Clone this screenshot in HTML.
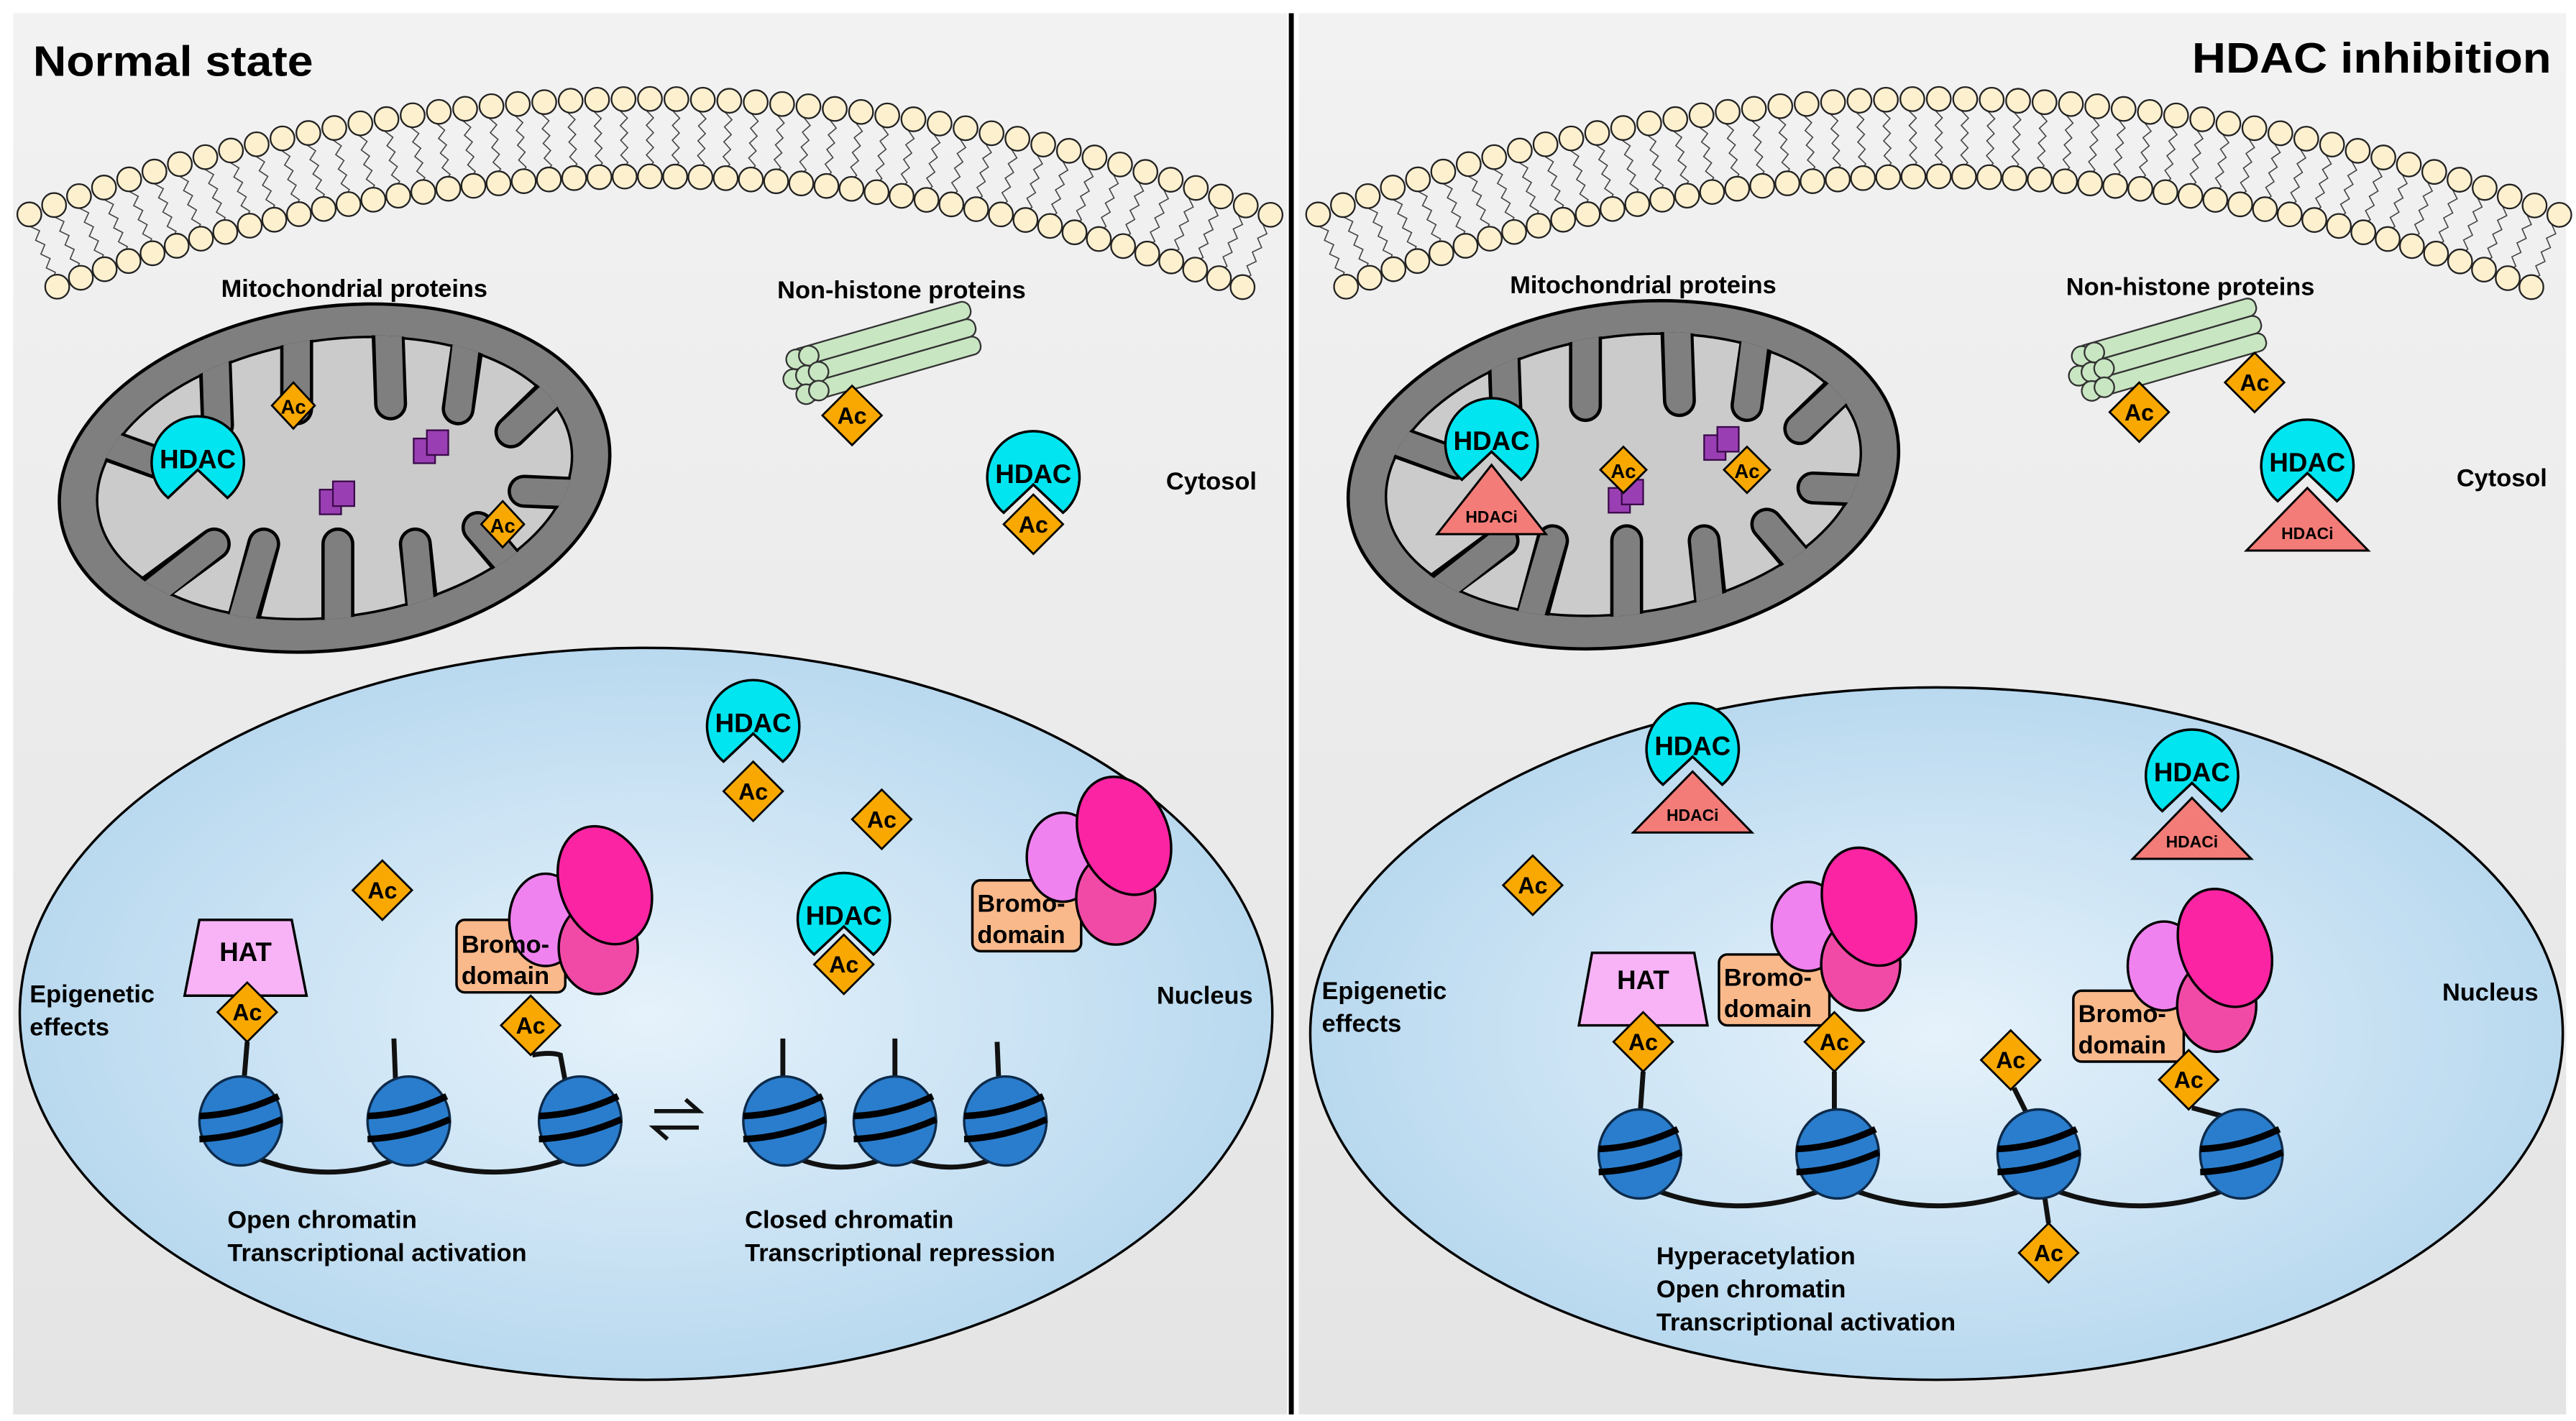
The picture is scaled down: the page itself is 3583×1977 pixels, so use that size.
<!DOCTYPE html>
<html><head><meta charset="utf-8"><style>
html,body{margin:0;padding:0;background:#fff;}
svg{display:block;}
text{font-family:"Liberation Sans",Arial,sans-serif;font-weight:bold;fill:#000;}
</style></head><body>
<svg id="s" width="3583" height="1977" viewBox="0 0 1563 862" preserveAspectRatio="none" xmlns="http://www.w3.org/2000/svg">
<defs>
<linearGradient id="bg" x1="0" y1="0" x2="0" y2="1"><stop offset="0" stop-color="#f2f2f2"/><stop offset="1" stop-color="#e4e4e4"/></linearGradient>
<radialGradient id="nuc" cx="0.5" cy="0.5" r="0.5"><stop offset="0" stop-color="#e6f2fb"/><stop offset="1" stop-color="#b9d9ef"/></radialGradient>
<clipPath id="cl"><ellipse cx="203" cy="290" rx="146" ry="85" transform="rotate(-8 203 290)"/></clipPath>
<clipPath id="cr"><ellipse cx="985" cy="288" rx="146" ry="85" transform="rotate(-8 985 288)"/></clipPath>
</defs>
<rect x="0" y="0" width="1563" height="862" fill="#fff"/>
<rect x="8" y="8" width="773" height="850" fill="url(#bg)"/>
<rect x="788" y="8" width="769" height="850" fill="url(#bg)"/>
<line x1="783.5" y1="8" x2="783.5" y2="858" stroke="#000" stroke-width="3"/>
<g id="mem"></g>

<text x="20" y="46" font-size="26" textLength="170" lengthAdjust="spacingAndGlyphs">Normal state</text>
<text x="1330" y="44" font-size="26" textLength="218" lengthAdjust="spacingAndGlyphs">HDAC inhibition</text>

<!-- LEFT MITO -->
<g>
<ellipse cx="203" cy="290" rx="168" ry="104" transform="rotate(-8 203 290)" fill="#7f7f7f" stroke="#000" stroke-width="2"/>
<ellipse cx="203" cy="290" rx="145" ry="84" transform="rotate(-8 203 290)" fill="#cbcbcb" stroke="#000" stroke-width="1.5"/>
<g clip-path="url(#cl)">
<g stroke="#000" stroke-width="20" stroke-linecap="round" fill="none">
<path d="M130 205 L132 258 M180 195 L180 248 M235 190 L237 245 M285 200 L278 248 M345 228 L310 262 M60 268 L102 283 M362 300 L318 298 M92 358 L130 330 M146 382 L160 330 M205 390 L205 330 M258 385 L252 330 M322 358 L290 320"/></g>
<g stroke="#7f7f7f" stroke-width="16" stroke-linecap="round" fill="none">
<path d="M130 195 L132 258 M180 185 L180 248 M235 180 L237 245 M285 190 L278 248 M355 220 L310 262 M50 264 L102 283 M372 300 L318 298 M84 366 L130 330 M142 392 L160 330 M205 400 L205 330 M258 395 L252 330 M330 366 L290 320"/></g>
</g>
</g>
<text x="215" y="180" font-size="15" text-anchor="middle">Mitochondrial proteins</text>
<text x="547" y="181" font-size="15" text-anchor="middle">Non-histone proteins</text>

<!-- RIGHT MITO -->
<g>
<ellipse cx="985" cy="288" rx="168" ry="104" transform="rotate(-8 985 288)" fill="#7f7f7f" stroke="#000" stroke-width="2"/>
<ellipse cx="985" cy="288" rx="145" ry="84" transform="rotate(-8 985 288)" fill="#cbcbcb" stroke="#000" stroke-width="1.5"/>
<g clip-path="url(#cr)">
<g stroke="#000" stroke-width="20" stroke-linecap="round" fill="none">
<path d="M912 203 L914 256 M962 193 L962 246 M1017 188 L1019 243 M1067 198 L1060 246 M1127 226 L1092 260 M842 266 L884 281 M1144 298 L1100 296 M874 356 L912 328 M928 380 L942 328 M987 388 L987 328 M1040 383 L1034 328 M1104 356 L1072 318"/></g>
<g stroke="#7f7f7f" stroke-width="16" stroke-linecap="round" fill="none">
<path d="M912 193 L914 256 M962 183 L962 246 M1017 178 L1019 243 M1067 188 L1060 246 M1137 218 L1092 260 M832 262 L884 281 M1154 298 L1100 296 M866 364 L912 328 M924 390 L942 328 M987 398 L987 328 M1040 393 L1034 328 M1112 364 L1072 318"/></g>
</g>
</g>
<text x="997" y="178" font-size="15" text-anchor="middle">Mitochondrial proteins</text>
<text x="1329" y="179" font-size="15" text-anchor="middle">Non-histone proteins</text>

<!-- purple cubes -->
<g fill="#9a3fb3" stroke="#3a0a4a" stroke-width="1">
<rect x="251" y="266" width="13" height="15"/><rect x="259" y="261" width="13" height="15"/>
<rect x="194" y="297" width="13" height="15"/><rect x="202" y="292" width="13" height="15"/>
<rect x="1034" y="264" width="13" height="15"/><rect x="1042" y="259" width="13" height="15"/>
<rect x="976" y="296" width="13" height="15"/><rect x="984" y="291" width="13" height="15"/>
</g>

<!-- green bundles -->
<g transform="translate(485 232) rotate(-16)" stroke="#333" stroke-width="1" fill="#c9e6c3">
<rect x="0" y="-20" width="112" height="11" rx="5"/><rect x="0" y="-9" width="112" height="11" rx="5"/><rect x="0" y="2" width="112" height="11" rx="5"/>
<circle cx="2" cy="-14" r="6"/><circle cx="10" cy="-14" r="6"/><circle cx="-3" cy="-3" r="6"/><circle cx="5" cy="-3" r="6"/><circle cx="13" cy="-3" r="6"/><circle cx="2" cy="8" r="6"/><circle cx="10" cy="8" r="6"/>
</g>
<g transform="translate(1265 230) rotate(-16)" stroke="#333" stroke-width="1" fill="#c9e6c3">
<rect x="0" y="-20" width="112" height="11" rx="5"/><rect x="0" y="-9" width="112" height="11" rx="5"/><rect x="0" y="2" width="112" height="11" rx="5"/>
<circle cx="2" cy="-14" r="6"/><circle cx="10" cy="-14" r="6"/><circle cx="-3" cy="-3" r="6"/><circle cx="5" cy="-3" r="6"/><circle cx="13" cy="-3" r="6"/><circle cx="2" cy="8" r="6"/><circle cx="10" cy="8" r="6"/>
</g>

<text x="735" y="297" font-size="15" text-anchor="middle">Cytosol</text>
<text x="1518" y="295" font-size="15" text-anchor="middle">Cytosol</text>

<!-- NUCLEI -->
<ellipse cx="392" cy="615" rx="380" ry="222" fill="url(#nuc)" stroke="#000" stroke-width="1.5"/>
<ellipse cx="1175" cy="627" rx="380" ry="210" fill="url(#nuc)" stroke="#000" stroke-width="1.5"/>

<text x="18" y="608" font-size="15">Epigenetic</text><text x="18" y="628" font-size="15">effects</text>
<text x="731" y="609" font-size="15" text-anchor="middle">Nucleus</text>
<text x="802" y="606" font-size="15">Epigenetic</text><text x="802" y="626" font-size="15">effects</text>
<text x="1511" y="607" font-size="15" text-anchor="middle">Nucleus</text>

<!-- chromatin linkers + tails -->
<g stroke="#111" stroke-width="3" fill="none">
<path d="M150 700 Q199 722 248 700 Q300 722 352 700"/>
<path d="M478 700 Q510 716 543 700 Q577 716 610 700"/>
<path d="M995 718 Q1055 745 1115 718 Q1176 745 1237 718 Q1298 745 1360 718"/>
<path d="M148 656 L150 632 M240 656 L239 630 M343 656 L340 640 Q334 638 323 640"/>
<path d="M475 656 L475 630 M543 656 L543 630 M606 656 L605 632"/>
<path d="M995 678 L997 650 M1113 678 L1113 650 M1231 678 L1222 660 M1352 678 L1330 672 M1240 722 L1243 742"/>
</g>

<!-- nucleosomes -->
<g id="nucs"></g>

<!-- equilibrium arrows -->
<path d="M397 674 L424 674 L416 667 M424 684 L397 684 L405 691" stroke="#111" stroke-width="2.5" fill="none"/>

<!-- HAT -->
<polygon points="121,558 177,558 186,604 112,604" fill="#f7b3f5" stroke="#000" stroke-width="1.5"/>
<text x="149" y="583" font-size="16" font-weight="normal" text-anchor="middle">HAT</text>
<polygon points="966,578 1028,578 1036,622 958,622" fill="#f7b3f5" stroke="#000" stroke-width="1.5"/>
<text x="997" y="600" font-size="16" font-weight="normal" text-anchor="middle">HAT</text>

<!-- Bromo complexes -->
<g stroke="#000" stroke-width="1.5">
<rect x="277" y="558" width="66" height="44" rx="5" fill="#f9b98b"/>
<ellipse cx="331" cy="558" rx="22" ry="28" fill="#ef82ef"/>
<ellipse cx="363" cy="575" rx="24" ry="28" fill="#f14aa6"/>
<ellipse cx="367" cy="537" rx="27" ry="37" transform="rotate(-22 367 537)" fill="#fb24a3"/>
<rect x="590" y="534" width="66" height="43" rx="5" fill="#f9b98b"/>
<ellipse cx="645" cy="520" rx="22" ry="27" fill="#ef82ef"/>
<ellipse cx="677" cy="545" rx="24" ry="28" fill="#f14aa6"/>
<ellipse cx="682" cy="507" rx="27" ry="37" transform="rotate(-22 682 507)" fill="#fb24a3"/>
<rect x="1043" y="579" width="67" height="43" rx="5" fill="#f9b98b"/>
<ellipse cx="1097" cy="562" rx="22" ry="27" fill="#ef82ef"/>
<ellipse cx="1129" cy="585" rx="24" ry="28" fill="#f14aa6"/>
<ellipse cx="1134" cy="550" rx="27" ry="37" transform="rotate(-22 1134 550)" fill="#fb24a3"/>
<rect x="1258" y="601" width="67" height="43" rx="5" fill="#f9b98b"/>
<ellipse cx="1313" cy="586" rx="22" ry="27" fill="#ef82ef"/>
<ellipse cx="1345" cy="610" rx="24" ry="28" fill="#f14aa6"/>
<ellipse cx="1350" cy="575" rx="27" ry="37" transform="rotate(-22 1350 575)" fill="#fb24a3"/>
</g>
<g font-size="15" font-weight="normal">
<text x="280" y="578">Bromo-</text><text x="280" y="597">domain</text>
<text x="593" y="553">Bromo-</text><text x="593" y="572">domain</text>
<text x="1046" y="598">Bromo-</text><text x="1046" y="617">domain</text>
<text x="1261" y="620">Bromo-</text><text x="1261" y="639">domain</text>
</g>

<!-- HDAC shapes -->
<g fill="#00e5ef" stroke="#000" stroke-width="1.5">
<path d="M102 302 A28 28 0 1 1 138 302 L120 285 Z"/>
<path d="M609 311 A28 28 0 1 1 645 311 L627 294 Z"/>
<path d="M439 462 A28 28 0 1 1 475 462 L457 445 Z"/>
<path d="M494 579 A28 28 0 1 1 530 579 L512 562 Z"/>
<path d="M887 291 A28 28 0 1 1 923 291 L905 274 Z"/>
<path d="M1382 304 A28 28 0 1 1 1418 304 L1400 287 Z"/>
<path d="M1009 476 A28 28 0 1 1 1045 476 L1027 459 Z"/>
<path d="M1312 492 A28 28 0 1 1 1348 492 L1330 475 Z"/>
</g>
<g font-size="16" text-anchor="middle">
<text x="120" y="284">HDAC</text><text x="627" y="293">HDAC</text><text x="457" y="444">HDAC</text><text x="512" y="561">HDAC</text>
<text x="905" y="273">HDAC</text><text x="1400" y="286">HDAC</text><text x="1027" y="458">HDAC</text><text x="1330" y="474">HDAC</text>
</g>

<!-- HDACi triangles -->
<g fill="#f47c78" stroke="#000" stroke-width="1.3">
<polygon points="905,282 938,324 872,324"/>
<polygon points="1400,296 1437,334 1363,334"/>
<polygon points="1027,468 1063,505 991,505"/>
<polygon points="1330,484 1366,521 1294,521"/>
</g>
<g font-size="10" text-anchor="middle">
<text x="905" y="317">HDACi</text><text x="1400" y="327">HDACi</text><text x="1027" y="498">HDACi</text><text x="1330" y="514">HDACi</text>
</g>

<!-- Ac diamonds -->
<g fill="#f8a800" stroke="#000" stroke-width="1.2">
<polygon points="178,232 191,246 178,260 165,246"/>
<polygon points="305,304 318,318 305,332 292,318"/>
<polygon points="517,234 535,252 517,270 499,252"/>
<polygon points="627,300 645,318 627,336 609,318"/>
<polygon points="457,462 475,480 457,498 439,480"/>
<polygon points="535,479 553,497 535,515 517,497"/>
<polygon points="232,522 250,540 232,558 214,540"/>
<polygon points="512,567 530,585 512,603 494,585"/>
<polygon points="150,596 168,614 150,632 132,614"/>
<polygon points="322,604 340,622 322,640 304,622"/>
<polygon points="985,271 999,285 985,299 971,285"/>
<polygon points="1060,271 1074,285 1060,299 1046,285"/>
<polygon points="1298,232 1316,250 1298,268 1280,250"/>
<polygon points="1368,214 1386,232 1368,250 1350,232"/>
<polygon points="930,519 948,537 930,555 912,537"/>
<polygon points="997,614 1015,632 997,650 979,632"/>
<polygon points="1113,614 1131,632 1113,650 1095,632"/>
<polygon points="1220,625 1238,643 1220,661 1202,643"/>
<polygon points="1328,637 1346,655 1328,673 1310,655"/>
<polygon points="1243,742 1261,760 1243,778 1225,760"/>
</g>
<g font-size="14" text-anchor="middle">
<text x="178" y="251" font-size="12">Ac</text><text x="305" y="323" font-size="12">Ac</text>
<text x="517" y="257">Ac</text><text x="627" y="323">Ac</text><text x="457" y="485">Ac</text><text x="535" y="502">Ac</text>
<text x="232" y="545">Ac</text><text x="512" y="590">Ac</text><text x="150" y="619">Ac</text><text x="322" y="627">Ac</text>
<text x="985" y="290" font-size="12">Ac</text><text x="1060" y="290" font-size="12">Ac</text>
<text x="1298" y="255">Ac</text><text x="1368" y="237">Ac</text><text x="930" y="542">Ac</text><text x="997" y="637">Ac</text>
<text x="1113" y="637">Ac</text><text x="1220" y="648">Ac</text><text x="1328" y="660">Ac</text><text x="1243" y="765">Ac</text>
</g>

<!-- captions -->
<g font-size="15">
<text x="138" y="745">Open chromatin</text><text x="138" y="765">Transcriptional activation</text>
<text x="452" y="745">Closed chromatin</text><text x="452" y="765">Transcriptional repression</text>
<text x="1005" y="767">Hyperacetylation</text><text x="1005" y="787">Open chromatin</text><text x="1005" y="807">Transcriptional activation</text>
</g>
</svg>
<script>
var NS="http://www.w3.org/2000/svg";
function el(p,t,a){var e=document.createElementNS(NS,t);for(var k in a)e.setAttribute(k,a[k]);p.appendChild(e);return e;}
var mem=document.getElementById('mem');
[0,782].forEach(function(ox){
  var cx=394+ox,cy=1105;
  var d="";
  for(var a=-21.1;a<=21.15;a+=0.88){
    var p=[];
    for(var i=0;i<=8;i++){var R=1038-i*4.5;var off=(i%2?0.12:-0.12);var rr=(a+off)*Math.PI/180;p.push((cx+R*Math.sin(rr)).toFixed(1)+","+(cy-R*Math.cos(rr)).toFixed(1));}
    d+="M"+p.join(" L");
  }
  el(mem,'path',{d:d,stroke:'#444','stroke-width':0.7,fill:'none'});
  for(var a=-21.1;a<=21.15;a+=0.88){
    var r=a*Math.PI/180;
    [1045,998].forEach(function(R){
      el(mem,'circle',{cx:cx+R*Math.sin(r),cy:cy-R*Math.cos(r),r:7.3,fill:'#fdf0cf',stroke:'#222','stroke-width':1});
    });
  }
});
var nucs=document.getElementById('nucs');
[[146,680],[248,680],[352,680],[476,680],[543,680],[610,680],[995,700],[1115,700],[1237,700],[1360,700]].forEach(function(q){
  var x=q[0],y=q[1];
  el(nucs,'ellipse',{cx:x,cy:y,rx:25,ry:27,fill:'#2a7dcd',stroke:'#0d2a4a','stroke-width':1.5});
  el(nucs,'path',{d:"M"+(x-25)+" "+(y-3)+" Q"+x+" "+(y-4)+" "+(x+23)+" "+(y-15),stroke:'#000','stroke-width':4,fill:'none'});
  el(nucs,'path',{d:"M"+(x-25)+" "+(y+11)+" Q"+x+" "+(y+10)+" "+(x+25)+" "+(y-1),stroke:'#000','stroke-width':4,fill:'none'});
});
</script>
</body></html>
